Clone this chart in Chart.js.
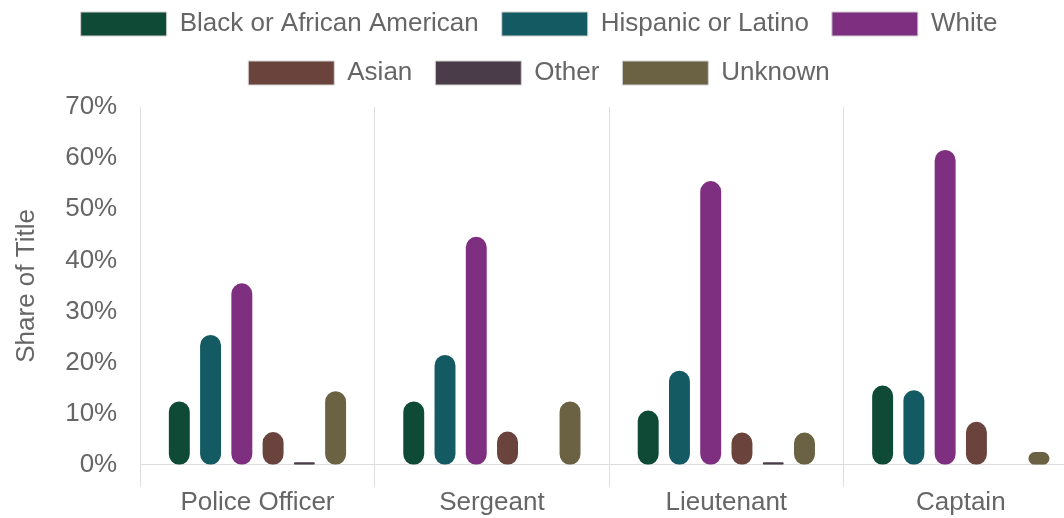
<!DOCTYPE html>
<html>
<head>
<meta charset="utf-8">
<script src="https://cdn.jsdelivr.net/npm/chart.js@4"></script>
<style>
  html, body { margin: 0; padding: 0; background: #ffffff; overflow: hidden; }
  #wrap { width: 1078px; height: 518px; }
</style>
</head>
<body>
<div id="wrap"><canvas id="c" width="1078" height="518"></canvas></div>
<script>
const categories = ["Police Officer", "Sergeant", "Lieutenant", "Captain"];
const seriesNames = ["Black or African American", "Hispanic or Latino", "White", "Asian", "Other", "Unknown"];
const blackValues = [12.4, 12.4, 10.6, 15.5];
const hispanicValues = [25.4, 21.5, 18.4, 14.6];
const whiteValues = [35.5, 44.6, 55.5, 61.6];
const asianValues = [6.4, 6.5, 6.3, 8.4];
const otherValues = [0.5, 0, 0.5, 0];
const unknownValues = [14.4, 12.4, 6.3, 2.5];
const seriesColors = ["#0f4a36", "#135a63", "#7e2f7f", "#6a443c", "#4a3c48", "#6b6244"];
const yTickMax = 70;
const yTickStep = 10;
const yTitle = "Share of Title";

const allValues = [blackValues, hispanicValues, whiteValues, asianValues, otherValues, unknownValues];
const FONT = "'Liberation Sans', Arial, Helvetica, sans-serif";

const datasets = seriesNames.map((name, i) => ({
  label: name,
  data: allValues[i],
  backgroundColor: seriesColors[i],
  borderWidth: 0,
  borderRadius: 20,
  borderSkipped: false,
  categoryPercentage: 0.8,
  barPercentage: 0.67
}));

const legendSpacer = {
  id: 'legendSpacer',
  beforeInit(chart) {
    const origFit = chart.legend.fit;
    chart.legend.fit = function () {
      origFit.bind(chart.legend)();
      this.height += 11;
    };
  }
};

new Chart(document.getElementById('c'), {
  type: 'bar',
  data: { labels: categories, datasets: datasets },
  plugins: [legendSpacer],
  options: {
    responsive: false,
    animation: false,
    devicePixelRatio: 1,
    layout: { padding: { top: -12, left: 0, right: 0, bottom: 0 } },
    plugins: {
      tooltip: { enabled: false },
      legend: {
        position: 'top',
        labels: {
          boxWidth: 86,
          boxHeight: 24,
          padding: 23,
          color: '#666666',
          font: { family: FONT, size: 26 },
          generateLabels(chart) {
            const items = Chart.defaults.plugins.legend.labels.generateLabels(chart);
            items.forEach(it => { it.strokeStyle = '#d2d2d2'; it.lineWidth = 1; it.borderRadius = 0; });
            return items;
          }
        }
      }
    },
    scales: {
      x: {
        grid: {
          display: true,
          offset: true,
          color: '#dddddd',
          lineWidth: 1,
          drawTicks: true,
          tickLength: 22,
          tickColor: '#dddddd'
        },
        border: { display: true, color: '#dddddd', width: 1 },
        ticks: {
          color: '#666666',
          padding: 0,
          font: { family: FONT, size: 26 }
        }
      },
      y: {
        min: 0,
        max: yTickMax,
        grid: { display: false, drawTicks: false },
        border: { display: false },
        ticks: {
          stepSize: yTickStep,
          padding: 23,
          color: '#666666',
          font: { family: FONT, size: 26 },
          callback: v => v + '%'
        },
        title: {
          display: true,
          text: yTitle,
          color: '#666666',
          font: { family: FONT, size: 26 },
          padding: { top: 11, bottom: 0 }
        }
      }
    }
  }
});
</script>
</body>
</html>
